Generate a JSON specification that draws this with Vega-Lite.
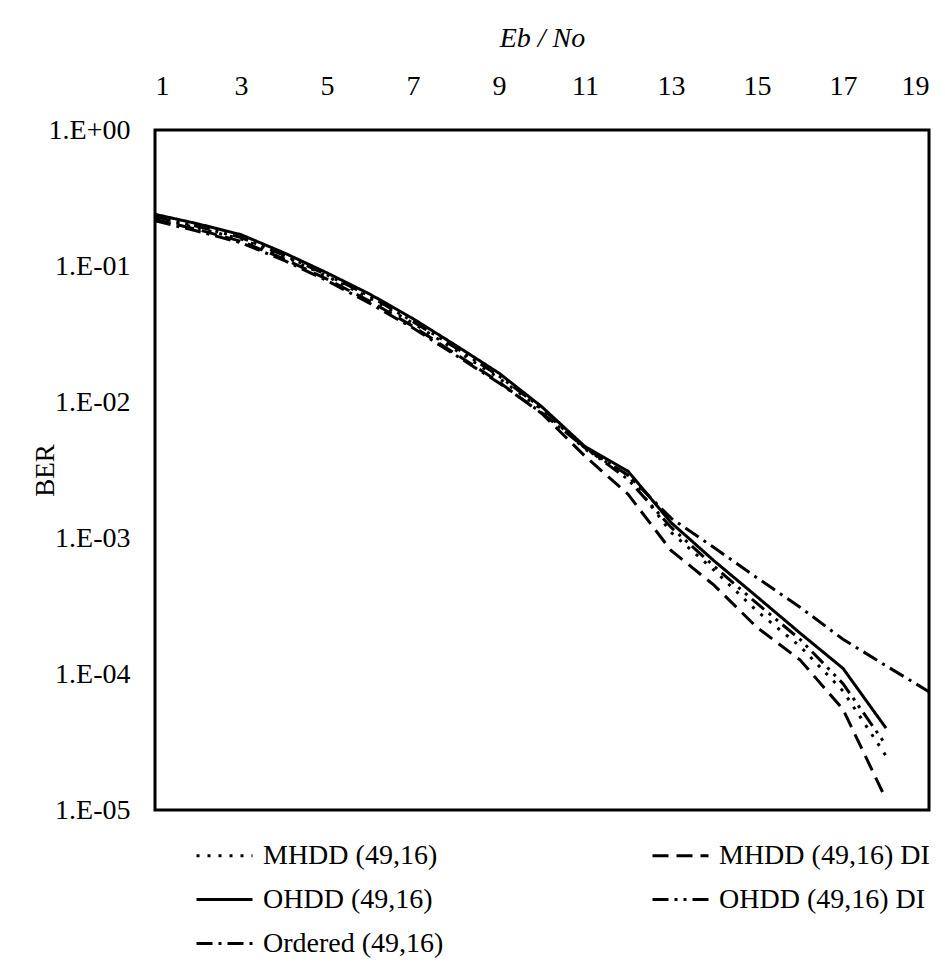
{
  "$schema": "https://vega.github.io/schema/vega-lite/v6.json",
  "width": 774,
  "height": 680,
  "autosize": {"type": "none"},
  "padding": {"left": 155, "top": 130, "right": 16, "bottom": 153},
  "background": "white",
  "config": {
    "view": {"stroke": "black", "strokeWidth": 3},
    "font": "Liberation Serif"
  },
  "data": {
    "values": [
      {"s": "MHDD (49,16)", "x": 1, "ber": 0.225},
      {"s": "MHDD (49,16)", "x": 2, "ber": 0.19},
      {"s": "MHDD (49,16)", "x": 3, "ber": 0.158},
      {"s": "MHDD (49,16)", "x": 4, "ber": 0.118},
      {"s": "MHDD (49,16)", "x": 5, "ber": 0.084},
      {"s": "MHDD (49,16)", "x": 6, "ber": 0.058},
      {"s": "MHDD (49,16)", "x": 7, "ber": 0.038},
      {"s": "MHDD (49,16)", "x": 8, "ber": 0.024},
      {"s": "MHDD (49,16)", "x": 9, "ber": 0.015},
      {"s": "MHDD (49,16)", "x": 10, "ber": 0.0088},
      {"s": "MHDD (49,16)", "x": 11, "ber": 0.0045},
      {"s": "MHDD (49,16)", "x": 12, "ber": 0.0029},
      {"s": "MHDD (49,16)", "x": 13, "ber": 0.0011},
      {"s": "MHDD (49,16)", "x": 14, "ber": 0.00058},
      {"s": "MHDD (49,16)", "x": 15, "ber": 0.00029},
      {"s": "MHDD (49,16)", "x": 16, "ber": 0.00016},
      {"s": "MHDD (49,16)", "x": 17, "ber": 0.000075},
      {"s": "MHDD (49,16)", "x": 18, "ber": 0.000025},

      {"s": "MHDD (49,16) DI", "x": 1, "ber": 0.22},
      {"s": "MHDD (49,16) DI", "x": 2, "ber": 0.185},
      {"s": "MHDD (49,16) DI", "x": 3, "ber": 0.152},
      {"s": "MHDD (49,16) DI", "x": 4, "ber": 0.113},
      {"s": "MHDD (49,16) DI", "x": 5, "ber": 0.08},
      {"s": "MHDD (49,16) DI", "x": 6, "ber": 0.055},
      {"s": "MHDD (49,16) DI", "x": 7, "ber": 0.036},
      {"s": "MHDD (49,16) DI", "x": 8, "ber": 0.0225},
      {"s": "MHDD (49,16) DI", "x": 9, "ber": 0.014},
      {"s": "MHDD (49,16) DI", "x": 10, "ber": 0.0082},
      {"s": "MHDD (49,16) DI", "x": 11, "ber": 0.004},
      {"s": "MHDD (49,16) DI", "x": 12, "ber": 0.0021},
      {"s": "MHDD (49,16) DI", "x": 13, "ber": 0.00081},
      {"s": "MHDD (49,16) DI", "x": 14, "ber": 0.00045},
      {"s": "MHDD (49,16) DI", "x": 15, "ber": 0.00022},
      {"s": "MHDD (49,16) DI", "x": 16, "ber": 0.000127},
      {"s": "MHDD (49,16) DI", "x": 17, "ber": 0.000055},
      {"s": "MHDD (49,16) DI", "x": 18, "ber": 0.000012},

      {"s": "OHDD (49,16)", "x": 1, "ber": 0.24},
      {"s": "OHDD (49,16)", "x": 2, "ber": 0.204},
      {"s": "OHDD (49,16)", "x": 3, "ber": 0.17},
      {"s": "OHDD (49,16)", "x": 4, "ber": 0.125},
      {"s": "OHDD (49,16)", "x": 5, "ber": 0.089},
      {"s": "OHDD (49,16)", "x": 6, "ber": 0.062},
      {"s": "OHDD (49,16)", "x": 7, "ber": 0.041},
      {"s": "OHDD (49,16)", "x": 8, "ber": 0.026},
      {"s": "OHDD (49,16)", "x": 9, "ber": 0.0163},
      {"s": "OHDD (49,16)", "x": 10, "ber": 0.0092},
      {"s": "OHDD (49,16)", "x": 11, "ber": 0.0047},
      {"s": "OHDD (49,16)", "x": 12, "ber": 0.0031},
      {"s": "OHDD (49,16)", "x": 13, "ber": 0.0013},
      {"s": "OHDD (49,16)", "x": 14, "ber": 0.00068},
      {"s": "OHDD (49,16)", "x": 15, "ber": 0.00037},
      {"s": "OHDD (49,16)", "x": 16, "ber": 0.0002},
      {"s": "OHDD (49,16)", "x": 17, "ber": 0.00011},
      {"s": "OHDD (49,16)", "x": 18, "ber": 0.00004},

      {"s": "OHDD (49,16) DI", "x": 1, "ber": 0.23},
      {"s": "OHDD (49,16) DI", "x": 2, "ber": 0.195},
      {"s": "OHDD (49,16) DI", "x": 3, "ber": 0.162},
      {"s": "OHDD (49,16) DI", "x": 4, "ber": 0.12},
      {"s": "OHDD (49,16) DI", "x": 5, "ber": 0.086},
      {"s": "OHDD (49,16) DI", "x": 6, "ber": 0.06},
      {"s": "OHDD (49,16) DI", "x": 7, "ber": 0.039},
      {"s": "OHDD (49,16) DI", "x": 8, "ber": 0.025},
      {"s": "OHDD (49,16) DI", "x": 9, "ber": 0.0155},
      {"s": "OHDD (49,16) DI", "x": 10, "ber": 0.009},
      {"s": "OHDD (49,16) DI", "x": 11, "ber": 0.0046},
      {"s": "OHDD (49,16) DI", "x": 12, "ber": 0.0027},
      {"s": "OHDD (49,16) DI", "x": 13, "ber": 0.0012},
      {"s": "OHDD (49,16) DI", "x": 14, "ber": 0.00062},
      {"s": "OHDD (49,16) DI", "x": 15, "ber": 0.00033},
      {"s": "OHDD (49,16) DI", "x": 16, "ber": 0.00018},
      {"s": "OHDD (49,16) DI", "x": 17, "ber": 0.000085},
      {"s": "OHDD (49,16) DI", "x": 18, "ber": 0.00003},

      {"s": "Ordered (49,16)", "x": 1, "ber": 0.215},
      {"s": "Ordered (49,16)", "x": 2, "ber": 0.18},
      {"s": "Ordered (49,16)", "x": 3, "ber": 0.148},
      {"s": "Ordered (49,16)", "x": 4, "ber": 0.11},
      {"s": "Ordered (49,16)", "x": 5, "ber": 0.078},
      {"s": "Ordered (49,16)", "x": 6, "ber": 0.053},
      {"s": "Ordered (49,16)", "x": 7, "ber": 0.035},
      {"s": "Ordered (49,16)", "x": 8, "ber": 0.022},
      {"s": "Ordered (49,16)", "x": 9, "ber": 0.0138},
      {"s": "Ordered (49,16)", "x": 10, "ber": 0.0083},
      {"s": "Ordered (49,16)", "x": 11, "ber": 0.0046},
      {"s": "Ordered (49,16)", "x": 12, "ber": 0.0029},
      {"s": "Ordered (49,16)", "x": 13, "ber": 0.0014},
      {"s": "Ordered (49,16)", "x": 14, "ber": 0.00085},
      {"s": "Ordered (49,16)", "x": 15, "ber": 0.00051},
      {"s": "Ordered (49,16)", "x": 16, "ber": 0.00031},
      {"s": "Ordered (49,16)", "x": 17, "ber": 0.00018},
      {"s": "Ordered (49,16)", "x": 18, "ber": 0.000115},
      {"s": "Ordered (49,16)", "x": 19, "ber": 0.000074}
    ]
  },
  "mark": {"type": "line", "color": "black", "strokeWidth": 3, "clip": true},
  "encoding": {
    "x": {
      "field": "x",
      "type": "quantitative",
      "scale": {"domain": [1, 19], "nice": false, "zero": false},
      "axis": {
        "orient": "top",
        "values": [1, 3, 5, 7, 9, 11, 13, 15, 17, 19],
        "grid": false,
        "domain": false,
        "ticks": false,
        "labelPadding": 30,
        "labelFontSize": 28,
        "labelColor": "black",
        "labelFont": "Liberation Serif",
        "title": "Eb / No",
        "titleFont": "Liberation Serif",
        "titleFontStyle": "italic",
        "titleFontWeight": "normal",
        "titleFontSize": 28,
        "titleColor": "black",
        "titlePadding": 20
      }
    },
    "y": {
      "field": "ber",
      "type": "quantitative",
      "scale": {"type": "log", "domain": [0.00001, 1], "nice": false},
      "axis": {
        "values": [1, 0.1, 0.01, 0.001, 0.0001, 0.00001],
        "labelExpr": "datum.value >= 1 ? '1.E+00' : '1.E-0' + format(-log(datum.value)/LN10, '.0f')",
        "grid": false,
        "domain": false,
        "ticks": false,
        "labelPadding": 25,
        "labelFontSize": 28,
        "labelColor": "black",
        "labelFont": "Liberation Serif",
        "title": "BER",
        "titleFont": "Liberation Serif",
        "titleFontWeight": "normal",
        "titleFontSize": 27,
        "titleColor": "black",
        "titleX": -110,
        "titleY": 340,
        "titleAngle": -90,
        "titleAlign": "center",
        "titleBaseline": "middle"
      }
    },
    "strokeDash": {
      "field": "s",
      "type": "nominal",
      "scale": {
        "domain": ["MHDD (49,16)", "MHDD (49,16) DI", "OHDD (49,16)", "OHDD (49,16) DI", "Ordered (49,16)"],
        "range": [[3, 8], [16, 8], [1, 0], [16, 6, 3, 6, 3, 6], [16, 6, 3, 6]]
      },
      "legend": {
        "title": null,
        "orient": "none",
        "direction": "horizontal",
        "legendX": 40,
        "legendY": 696,
        "columns": 2,
        "columnPadding": 202,
        "rowPadding": -40,
        "padding": 0,
        "symbolType": "stroke",
        "symbolSize": 3136,
        "symbolStrokeWidth": 3,
        "symbolStrokeColor": "black",
        "labelFont": "Liberation Serif",
        "labelFontSize": 28,
        "labelColor": "black",
        "labelLimit": 400,
        "labelOffset": 9
      }
    }
  }
}
